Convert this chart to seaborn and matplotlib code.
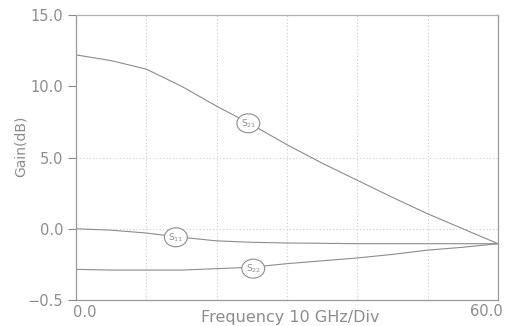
import numpy as np
import pandas as pd
import matplotlib
matplotlib.use("Agg")
import matplotlib.pyplot as plt
import seaborn as sns

freq = [0, 5, 10, 15, 20, 25, 30, 35, 40, 45, 50, 55, 60]
s21 = [12.2, 11.8, 11.2, 10.0, 8.6, 7.3, 5.9, 4.6, 3.4, 2.2, 1.05, 0.0, -1.05]
s11 = [0.0, -0.1, -0.3, -0.6, -0.85, -0.95, -1.0, -1.02, -1.05, -1.05, -1.05, -1.05, -1.05]
s22 = [-2.85, -2.9, -2.9, -2.9, -2.8, -2.7, -2.45, -2.25, -2.05, -1.8, -1.5, -1.3, -1.05]
y_ticks = [15, 10, 5, 0, -5]
y_tick_labels = ["15.0", "10.0", "5.0", "0.0", "\u22120.5"]
x_tick_labels = ["0.0", "60.0"]
series_labels = {"S21": r"S$_{21}$", "S11": r"S$_{11}$", "S22": r"S$_{22}$"}
label_pos = {"S21": (24.5, 7.4), "S11": (14.2, -0.6), "S22": (25.2, -2.8)}

df = pd.DataFrame({
    "freq": freq * 3,
    "gain": s21 + s11 + s22,
    "series": ["S21"] * len(freq) + ["S11"] * len(freq) + ["S22"] * len(freq),
})

sns.set_style("white")
plt.rcParams["font.family"] = ["DejaVu Sans"]

W, H = 512, 326
fig = plt.figure(figsize=(W / 100, H / 100), dpi=100)
ax = fig.add_axes([76 / W, 1 - 300 / H, (498 - 76) / W, (300 - 15) / H])

gray = "#8c8c8c"
sns.lineplot(data=df, x="freq", y="gain", hue="series",
             palette={"S21": gray, "S11": gray, "S22": gray},
             linewidth=0.8, legend=False, ax=ax)

ax.set_xlim(0, 60)
ax.set_ylim(-5, 15)

for xv in range(10, 60, 10):
    ax.axvline(xv, color="#cccccc", lw=0.8, ls=(0, (1, 2)), zorder=0)
for yv in [5, 0]:
    ax.axhline(yv, color="#cccccc", lw=0.8, ls=(0, (1, 2)), zorder=0)

ax.set_yticks(y_ticks)
ax.set_yticklabels(y_tick_labels)
ax.set_xticks([])
ax.tick_params(axis="y", direction="out", length=6, width=0.8, color="#888888",
               labelsize=10.5, labelcolor=gray, left=True, pad=3)

fig.text(73 / W, 1 - 305 / H, x_tick_labels[0], ha="left", va="top",
         fontsize=10.5, color=gray)
fig.text(503 / W, 1 - 304 / H, x_tick_labels[1], ha="right", va="top",
         fontsize=10.5, color=gray)

ax.set_xlabel("")
fig.text(290 / W, 1 - 322 / H, "Frequency 10 GHz/Div", ha="center", va="baseline",
         fontsize=11.5, color=gray)
ax.set_ylabel("Gain(dB)", fontsize=10, color=gray)
ax.yaxis.set_label_coords(-0.115, 0.54)

for name, sp in ax.spines.items():
    sp.set_color("#999999")
    sp.set_linewidth(0.9)
ax.spines["top"].set_linestyle((0, (1, 1)))
ax.spines["top"].set_color("#b0b0b0")

for key, (xp, yp) in label_pos.items():
    ax.text(xp, yp, series_labels[key], ha="center", va="center", fontsize=6.5,
            color=gray,
            bbox=dict(boxstyle="ellipse,pad=0.05", fc="white", ec=gray, lw=0.8))

fig.savefig("out.png", dpi=100)
